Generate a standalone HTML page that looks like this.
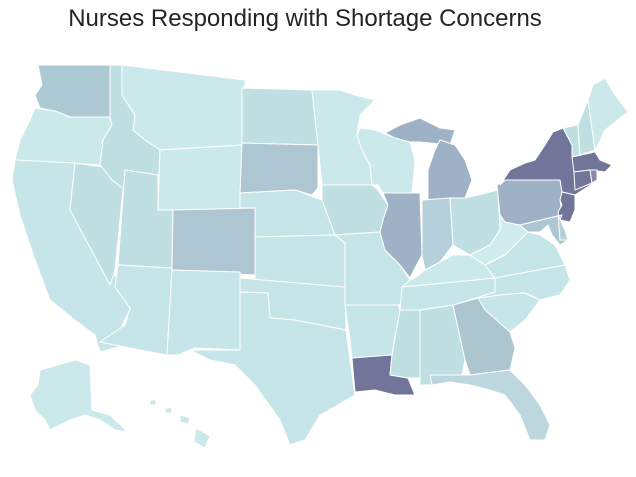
<!DOCTYPE html>
<html><head><meta charset="utf-8"><style>
body{margin:0;background:#fff;width:636px;height:477px;overflow:hidden}
.t{position:absolute;top:5px;left:0;width:610px;text-align:center;font-family:"Liberation Sans",sans-serif;font-size:24px;color:#252423}
svg{position:absolute;top:0;left:0}
polygon{stroke:#fff;stroke-width:1;stroke-linejoin:round}
</style></head><body>
<div class="t">Nurses Responding with Shortage Concerns</div>
<svg width="636" height="477">
<g fill="#c6e5e8">
<polygon fill="#adc9d3" points="38,65 115,65 110,117 70,117 55,111 40,108 35,95 42,85"/>
<polygon fill="#cbe9eb" points="35,108 55,111 70,117 110,117 112,125 103,140 100,165 15,160 20,140 30,120"/>
<polygon points="15,160 75,163 70,210 125,290 130,310 122,325 125,345 100,352 95,335 75,320 50,300 35,260 20,215 12,180"/>
<polygon fill="#bfdfe3" points="75,163 125,170 115,270 110,285 70,210"/>
<polygon fill="#bfdfe3" points="110,65 122,65 122,95 135,115 133,130 145,140 160,150 158,195 125,190 112,180 100,165 103,140 112,125 110,117"/>
<polygon fill="#cbe9eb" points="122,65 245,80 242,145 160,150 145,140 133,130 135,115 122,95"/>
<polygon fill="#cbe9eb" points="160,150 242,145 240,210 158,210"/>
<polygon fill="#bfdfe3" points="125,170 158,175 158,210 173,210 172,268 118,265"/>
<polygon fill="#aec6d2" points="173,210 255,208 255,275 172,270"/>
<polygon points="118,265 172,268 167,355 140,350 100,342 125,325 130,308 115,287"/>
<polygon points="172,270 240,272 240,350 195,348 178,355 167,355"/>
<polygon fill="#c0dfe3" points="242,88 312,90 318,145 242,143"/>
<polygon fill="#aec6d2" points="242,143 318,145 318,188 312,195 295,190 240,193"/>
<polygon points="240,193 295,190 322,200 335,235 255,237 255,208 240,208"/>
<polygon points="255,237 335,235 345,243 345,287 255,287"/>
<polygon points="240,278 345,287 346,330 320,325 295,320 270,318 268,293 240,292"/>
<polygon points="240,292 268,293 270,318 295,320 346,330 350,360 355,395 320,415 305,440 290,445 280,420 255,385 235,365 210,360 190,350 240,350"/>
<polygon fill="#cbe9eb" points="312,90 340,90 355,95 375,100 360,115 357,135 362,150 370,165 372,185 322,185 318,145"/>
<polygon fill="#bfdfe3" points="322,185 372,185 378,190 388,205 383,220 380,232 335,235 322,200"/>
<polygon points="335,235 380,232 385,250 400,265 410,280 410,300 398,305 345,305 345,243"/>
<polygon points="345,305 398,305 402,315 395,335 392,355 352,358 350,340"/>
<polygon fill="#72759a" points="352,358 392,355 390,375 408,378 415,395 395,395 375,390 355,392"/>
<polygon fill="#bfdfe3" points="392,355 390,375 408,378 420,378 420,310 400,310"/>
<polygon fill="#bfdfe3" points="420,310 453,305 465,360 462,375 430,375 432,385 420,385 420,378"/>
<polygon points="400,310 402,287 495,278 510,275 495,292 470,300 453,305 420,310"/>
<polygon fill="#cbe9eb" points="402,287 410,280 415,278 425,270 440,262 453,255 470,255 485,265 495,278"/>
<polygon fill="#9fb2c5" points="383,193 420,193 422,255 415,268 410,278 400,265 385,250 380,232 383,220 388,205"/>
<polygon fill="#cbe9eb" points="360,128 375,130 395,138 410,142 415,160 412,193 383,193 378,185 372,185 370,165 362,150 357,135"/>
<polygon fill="#9fb2c5" points="385,133 400,125 420,118 440,128 455,130 450,145 420,142 410,142 395,138"/>
<polygon fill="#9fb2c5" points="440,140 455,145 465,160 472,180 465,198 428,200 428,170 435,150"/>
<polygon fill="#b5d0da" points="422,200 450,198 453,245 440,262 425,270 422,255"/>
<polygon fill="#c0dfe3" points="450,198 465,198 478,195 498,190 500,230 490,245 470,255 453,245"/>
<polygon fill="#d0eced" points="500,230 500,215 505,222 520,225 528,232 515,245 505,255 490,262 485,265 470,255 490,245"/>
<polygon points="485,265 505,255 515,245 528,232 540,235 555,245 565,265 495,278"/>
<polygon points="495,278 565,265 570,280 560,295 540,300 525,293 500,295 470,300 495,292"/>
<polygon points="478,298 500,295 525,293 540,300 525,320 510,332 485,310"/>
<polygon fill="#adc5cf" points="453,305 478,298 485,310 510,332 515,348 510,370 470,375 465,360"/>
<polygon fill="#bcd8de" points="430,375 462,375 470,375 510,370 525,385 540,405 550,425 545,440 530,440 520,415 505,395 490,390 470,385 450,382 432,385"/>
<polygon fill="#9fb2c5" points="497,185 505,180 560,180 565,192 560,200 562,215 520,225 505,222 500,215"/>
<polygon fill="#72759a" points="500,185 510,170 525,163 535,160 545,145 553,132 563,128 572,145 575,170 578,188 590,180 595,182 575,195 562,192 560,180 505,180"/>
<polygon fill="#72759a" points="562,192 575,195 575,210 570,222 560,220 558,212 562,205 560,200"/>
<polygon fill="#aec6d2" points="520,225 562,215 560,220 568,240 560,245 552,235 548,225 540,232 528,232"/>
<polygon fill="#b5d0da" points="558,215 565,230 568,240 560,240"/>
<polygon fill="#c0dfe3" points="563,128 578,125 580,155 572,157 572,145"/>
<polygon fill="#c0dfe3" points="578,125 588,100 595,150 580,155"/>
<polygon fill="#cbe9eb" points="588,100 593,85 605,78 615,95 628,112 605,130 598,145 595,150"/>
<polygon fill="#72759a" points="572,157 595,152 600,160 612,165 605,172 590,170 574,172"/>
<polygon fill="#72759a" points="574,172 590,170 592,183 575,190"/>
<polygon fill="#8489a8" points="590,170 597,170 597,180 592,183"/>
<polygon fill="#cbe9eb" points="40,370 75,360 90,365 92,410 110,415 128,432 115,430 100,420 85,415 70,420 50,430 45,420 35,410 30,395 38,385"/>
<polygon fill="#cbe9eb" points="150,400 156,400 156,405 150,405"/>
<polygon fill="#cbe9eb" points="165,408 172,408 172,413 165,413"/>
<polygon fill="#cbe9eb" points="180,415 190,418 188,424 180,422"/>
<polygon fill="#cbe9eb" points="196,428 210,436 205,448 194,442"/>
</g>
</svg>
</body></html>
